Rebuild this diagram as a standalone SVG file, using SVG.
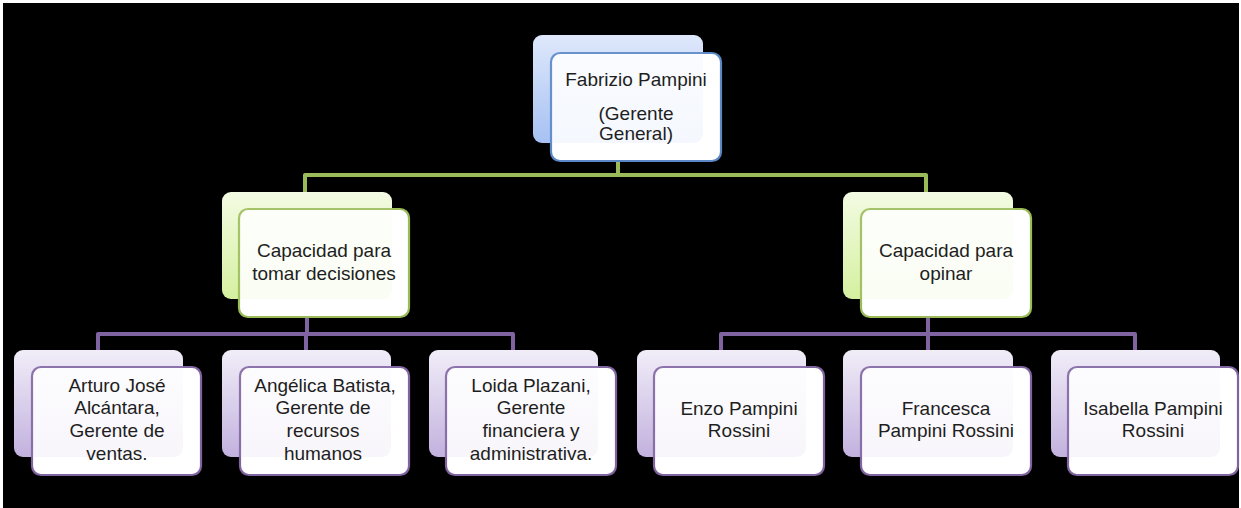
<svg xmlns="http://www.w3.org/2000/svg" width="1241" height="508" viewBox="0 0 1241 508">
  <defs>
    <linearGradient id="gBlue" x1="0" y1="0" x2="0" y2="1">
      <stop offset="0" stop-color="#dfe8fb"/>
      <stop offset="1" stop-color="#a6c1f3"/>
    </linearGradient>
    <linearGradient id="gGreen" x1="0" y1="0" x2="0" y2="1">
      <stop offset="0" stop-color="#f3fbe3"/>
      <stop offset="1" stop-color="#d5f09f"/>
    </linearGradient>
    <linearGradient id="gPurple" x1="0" y1="0" x2="0" y2="1">
      <stop offset="0" stop-color="#f1edf8"/>
      <stop offset="1" stop-color="#c2b1de"/>
    </linearGradient>
  </defs>
  <style>
    .back { stroke: none; }
    .front { fill: #ffffff; stroke-width: 2.2; }
    .tint { stroke: none; opacity: 0.12; }
    .blue .back, .blue .tint { fill: url(#gBlue); }
    .green .back, .green .tint { fill: url(#gGreen); }
    .purple .back, .purple .tint { fill: url(#gPurple); }
    .blue .front { stroke: #5b87c6; }
    .green .front { stroke: #9bbb59; }
    .purple .front { stroke: #8064a2; }
    .edge { fill: none; stroke-width: 4; stroke-linejoin: round; }
    .eg { stroke: #9bbb59; }
    .ep { stroke: #8064a2; }
    text { font-family: "Liberation Sans", Arial, sans-serif; font-size: 19px; fill: #1e1e1e; text-anchor: middle; }
  </style>
  <rect x="0" y="0" width="1241" height="508" fill="#ffffff"/>
  <rect x="3" y="3" width="1236" height="505" fill="#000000"/>

  <g id="connectors">
    <path class="edge eg" d="M618,143 V175 M305,192 V175 H926 V192"/>
    <path class="edge ep" d="M307,299 V334 M98,350 V334 H513 V350 M306,334 V350"/>
    <path class="edge ep" d="M928,299 V334 M721,350 V334 H1135 V350 M928,334 V350"/>
  </g>

  <g id="n-fabrizio" class="blue">
    <rect class="back" x="533" y="35" width="170" height="108" rx="9"/>
    <rect class="front" x="551" y="53" width="170" height="108" rx="9"/>
    <rect class="tint" x="533" y="35" width="170" height="108" rx="9"/>
    <text x="636" y="86">Fabrizio Pampini</text>
    <text x="636" y="120">(Gerente</text>
    <text x="636" y="140">General)</text>
  </g>

  <g id="n-decisiones" class="green">
    <rect class="back" x="222" y="192" width="170" height="107" rx="9"/>
    <rect class="front" x="239" y="209" width="170" height="108" rx="9"/>
    <rect class="tint" x="222" y="192" width="170" height="107" rx="9"/>
    <text x="324" y="257">Capacidad para</text>
    <text x="324" y="280">tomar decisiones</text>
  </g>

  <g id="n-opinar" class="green">
    <rect class="back" x="843" y="192" width="170" height="107" rx="9"/>
    <rect class="front" x="861" y="209" width="170" height="108" rx="9"/>
    <rect class="tint" x="843" y="192" width="170" height="107" rx="9"/>
    <text x="946" y="257">Capacidad para</text>
    <text x="946" y="280">opinar</text>
  </g>

  <g id="n-arturo" class="purple">
    <rect class="back" x="14" y="350" width="169" height="107" rx="9"/>
    <rect class="front" x="32" y="367" width="169" height="108" rx="9"/>
    <rect class="tint" x="14" y="350" width="169" height="107" rx="9"/>
    <text x="117" y="392">Arturo José</text>
    <text x="117" y="414">Alcántara,</text>
    <text x="117" y="437">Gerente de</text>
    <text x="117" y="460">ventas.</text>
  </g>

  <g id="n-angelica" class="purple">
    <rect class="back" x="222" y="350" width="169" height="107" rx="9"/>
    <rect class="front" x="240" y="367" width="169" height="108" rx="9"/>
    <rect class="tint" x="222" y="350" width="169" height="107" rx="9"/>
    <text x="325" y="392">Angélica Batista,</text>
    <text x="323" y="414">Gerente de</text>
    <text x="323" y="437">recursos</text>
    <text x="323" y="460">humanos</text>
  </g>

  <g id="n-loida" class="purple">
    <rect class="back" x="429" y="350" width="169" height="107" rx="9"/>
    <rect class="front" x="446" y="367" width="170" height="108" rx="9"/>
    <rect class="tint" x="429" y="350" width="169" height="107" rx="9"/>
    <text x="531" y="392">Loida Plazani,</text>
    <text x="531" y="414">Gerente</text>
    <text x="531" y="437">financiera y</text>
    <text x="531" y="460">administrativa.</text>
  </g>

  <g id="n-enzo" class="purple">
    <rect class="back" x="637" y="350" width="169" height="107" rx="9"/>
    <rect class="front" x="654" y="367" width="170" height="108" rx="9"/>
    <rect class="tint" x="637" y="350" width="169" height="107" rx="9"/>
    <text x="739" y="415">Enzo Pampini</text>
    <text x="739" y="437">Rossini</text>
  </g>

  <g id="n-francesca" class="purple">
    <rect class="back" x="843" y="350" width="170" height="107" rx="9"/>
    <rect class="front" x="861" y="367" width="170" height="108" rx="9"/>
    <rect class="tint" x="843" y="350" width="170" height="107" rx="9"/>
    <text x="946" y="415">Francesca</text>
    <text x="946" y="437">Pampini Rossini</text>
  </g>

  <g id="n-isabella" class="purple">
    <rect class="back" x="1051" y="350" width="169" height="107" rx="9"/>
    <rect class="front" x="1068" y="367" width="170" height="108" rx="9"/>
    <rect class="tint" x="1051" y="350" width="169" height="107" rx="9"/>
    <text x="1153" y="415">Isabella Pampini</text>
    <text x="1153" y="437">Rossini</text>
  </g>
</svg>
